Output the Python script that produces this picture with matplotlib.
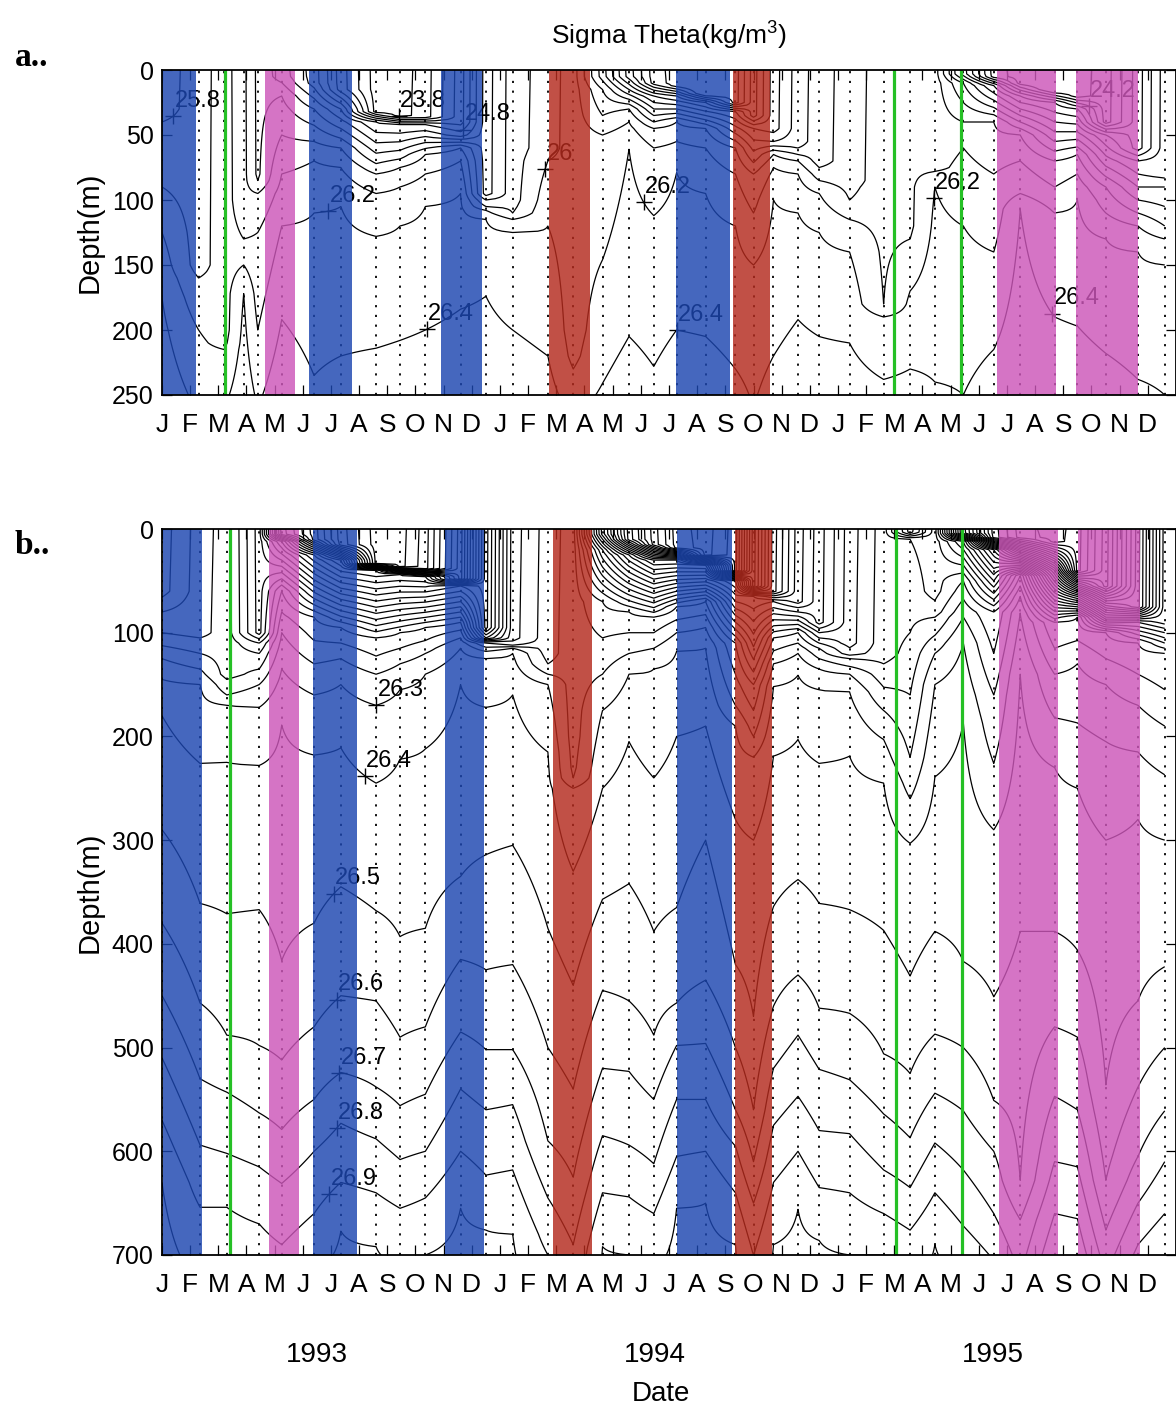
import numpy as np
import matplotlib
matplotlib.use("Agg")
import matplotlib.pyplot as plt
from matplotlib.transforms import blended_transform_factory

SANS = ['Liberation Sans', 'DejaVu Sans']
plt.rcParams['font.family'] = SANS
plt.rcParams['mathtext.fontset'] = 'custom'
plt.rcParams['mathtext.rm'] = 'Liberation Sans'

# ---------------- axis categories ----------------
month_labels = list("JFMAMJJASOND") * 3
year_labels = ['1993', '1994', '1995']
yticks_a = [0, 50, 100, 150, 200, 250]
yticks_b = [0, 100, 200, 300, 400, 500, 600, 700]

# ---------------- event bars (months since Jan 1993) ----------------
bar_start_a = [0.0, 3.65, 5.21, 9.9, 13.73, 18.24, 20.26, 29.66, 32.46]
bar_end_a = [1.21, 4.72, 6.74, 11.35, 15.19, 20.16, 21.57, 31.75, 34.66]
bar_kind_a = ['blue', 'pink', 'blue', 'blue', 'red', 'blue', 'red', 'pink', 'pink']
green_a = [2.23, 26.0, 28.35]

bar_start_b = [0.05, 3.8, 5.36, 10.04, 13.87, 18.3, 20.33, 29.72, 32.52]
bar_end_b = [1.42, 4.86, 6.92, 11.42, 15.28, 20.25, 21.64, 31.8, 34.72]
bar_kind_b = ['blue', 'pink', 'blue', 'blue', 'red', 'blue', 'red', 'pink', 'pink']
green_b = [2.41, 26.07, 28.42]

# ---------------- panel a: casts and profile knots ----------------
cast_a = [0.0, 1.3, 2.2, 2.9, 3.4, 4.25, 5.4, 6.35, 7.6, 8.45, 9.35, 10.6, 11.5,
          12.45, 13.7, 14.6, 15.64, 16.58, 17.46, 18.27, 19.3, 20.36, 21.0, 21.71,
          22.58, 23.33, 24.41, 25.62, 26.56, 27.44, 28.45, 29.53, 30.47, 31.69,
          32.5, 33.51, 34.65, 35.6]
s0_a = [25.7, 25.9, 26.1, 25.85, 25.55, 25.3, 24.9, 24.3, 23.7, 23.7, 23.9, 24.5, 25.3,
        25.7, 25.9, 26.1, 25.3, 24.5, 23.9, 23.7, 23.5, 23.7, 24.3, 24.9,
        25.3, 25.5, 25.7, 25.9, 25.95, 25.9, 24.9, 23.9, 23.7, 23.5,
        23.7, 23.9, 24.5, 25.1]
mld_a = [30, 150, 200, 100, 80, 5, 10, 15, 32, 35, 36, 40, 95,
         100, 60, 200, 5, 5, 10, 12, 18, 25, 35, 45,
         55, 70, 85, 110, 120, 60, 3, 5, 10, 15,
         20, 40, 60, 80]
s1_a = [25.75, 25.95, 26.15, 25.9, 25.6, 25.6, 25.4, 25.0, 24.8, 24.8, 24.8, 24.9, 25.6,
        25.75, 25.95, 26.15, 25.6, 25.0, 24.8, 24.6, 24.6, 24.8, 25.0, 25.2,
        25.4, 25.6, 25.75, 25.95, 25.98, 25.95, 25.4, 24.8, 24.6, 24.6,
        24.6, 24.8, 25.0, 25.4]
ds1_a = [35, 155, 210, 110, 85, 20, 30, 30, 40, 42, 42, 50, 100,
         105, 65, 220, 15, 15, 20, 20, 25, 32, 45, 55,
         60, 75, 90, 115, 125, 75, 10, 12, 20, 25,
         30, 50, 70, 90]
d258_a = [40, np.nan, np.nan, np.nan, 95, 50, 55, 60, 80, 75, 65, 60, 105,
          110, np.nan, np.nan, 35, 30, 45, 40, 45, 60, 80, 65,
          70, 85, 100, np.nan, np.nan, np.nan, 40, 40, 50, 70,
          65, 90, 110, 120]
d260_a = [90, 160, np.nan, 130, 125, 80, 70, 75, 95, 90, 80, 70, 108,
          115, 70, np.nan, 50, 40, 60, 55, 60, 80, 110, 75,
          80, 95, 115, 180, 130, 78, 60, 80, 70, 90,
          80, 110, 120, 130]
d262_a = [125, 200, 215, 150, 200, 120, 110, 105, 128, 120, 105, 95, 115,
          125, 120, 230, 146, 61, 112, 79, 95, 120, 150, 100,
          110, 125, 140, 190, 170, 90, 120, 140, 95, 110,
          100, 130, 140, 150]
d264_a = [175, 265, 260, 172, 260, 192, 235, 220, 214, 208, 200, 184, 174,
          200, 220, 270, 241, 205, 228, 200, 205, 230, 260, 220,
          192, 205, 210, 238, 230, 240, 250, 215, 107, 190,
          197, 218, 238, 250]
d266_a = [300, 320, 320, 300, 320, 280, 300, 300, 300, 300, 300, 300, 300,
          300, 300, 320, 300, 300, 300, 300, 300, 300, 320, 300,
          300, 300, 300, 300, 300, 300, 300, 300, 300, 300,
          300, 300, 300, 320]
levels_a = [23.8, 24.0, 24.2, 24.4, 24.6, 24.8, 25.0, 25.2, 25.4, 25.6, 25.8,
            26.0, 26.2, 26.4, 26.6]
label_text_a = ['25.8', '23.8', '24.8', '26', '26.2', '26.4', '26.2', '26.4',
                '24.8', '26.2', '24.2', '26.4']
label_level_a = [25.8, 23.8, 24.8, 26.0, 26.2, 26.4, 26.2, 26.4, 24.8, 26.2, 24.2, 26.4]
label_time_a = [0.4, 8.4, 10.7, 13.6, 5.9, 9.4, 17.1, 18.27, 21.7, 27.4, 32.9, 31.6]

# ---------------- panel b: casts and profile knots ----------------
cast_b = [0.0, 1.35, 2.3, 3.45, 4.25, 5.4, 6.35, 7.6, 8.45, 9.35, 10.6, 11.5, 12.45,
          13.7, 14.6, 15.64, 16.58, 17.46, 18.27, 19.3, 20.36, 21.0, 21.71, 22.58,
          23.33, 24.41, 25.62, 26.56, 27.44, 28.45, 29.53, 30.47, 31.69, 32.5,
          33.51, 34.65, 35.6]
s0_b = [25.75, 25.95, 26.05, 25.65, 24.55, 24.15, 23.75, 23.45, 23.45, 23.65, 24.25,
        25.15, 25.85, 26.05, 26.15, 24.95, 24.15, 23.75, 23.45, 23.35, 23.55, 24.25,
        24.85, 25.25, 25.45, 25.75, 25.95, 25.45, 25.85, 24.55, 23.75, 23.45, 23.35,
        23.45, 23.85, 24.55, 25.35]
mld_b = [60, 100, 140, 100, 5, 10, 15, 33, 36, 38, 48, 95, 105, 120, 200, 5, 10, 15,
         18, 25, 40, 55, 60, 70, 90, 110, 120, 3, 60, 4, 8, 8, 12, 40, 55, 75, 90]
s1_b = [25.9, 26.0, 26.1, 25.9, 25.2, 25.0, 24.8, 24.9, 25.0, 25.0, 25.3, 25.5, 25.9,
        26.1, 26.18, 25.4, 25.0, 24.8, 24.8, 24.9, 25.1, 25.3, 25.4, 25.5, 25.7, 25.85,
        26.0, 25.9, 25.95, 25.5, 25.0, 24.8, 24.6, 25.0, 25.2, 25.5, 25.6]
ds1_b = [80, 105, 145, 110, 12, 25, 30, 40, 44, 46, 55, 105, 108, 130, 230, 20, 25, 30,
         30, 35, 50, 65, 70, 80, 100, 120, 130, 10, 80, 12, 20, 28, 40, 65, 85, 90, 100]
d260_b = [100, np.nan, np.nan, 120, 60, 85, 95, 105, 100, 95, 90, 110, 112, np.nan,
          np.nan, 70, 80, 85, 75, 70, 110, 150, 105, 100, 115, 125, np.nan, 100, 85,
          50, 80, 45, 90, 85, 100, 110, 120]
d262_b = [125, 135, 160, 150, 100, 130, 125, 140, 130, 120, 105, 118, 115, 140, 240,
          140, 120, 115, 100, 95, 170, 200, 130, 120, 135, 140, 175, 220, 120, 85, 160,
          65, 140, 130, 150, 170, 190]
d263_b = [145, 150, 170, 172, 135, 160, 150, 170, 155, 140, 115, 125, 120, 150, 250,
          175, 140, 135, 118, 115, 190, 220, 152, 141, 155, 157, 203, 260, 150, 110, 226,
          81, 182, 187, 205, 215, 237]
d264_b = [180, 226, 225, 228, 189, 218, 211, 245, 222, 212, 150, 172, 160, 215, 330,
          250, 205, 240, 200, 190, 280, 300, 219, 203, 226, 219, 245, 303, 239, 187, 290,
          140, 230, 250, 300, 280, 300]
d265_b = [290, 361, 371, 367, 416, 380, 345, 368, 393, 385, 335, 314, 305, 385, 440,
          357, 342, 388, 365, 300, 420, 470, 364, 338, 361, 367, 387, 431, 388, 417, 451,
          388, 388, 406, 536, 455, 422]
d266_b = [380, 457, 488, 498, 512, 480, 450, 455, 490, 480, 415, 425, 420, 500, 540,
          445, 455, 488, 457, 435, 500, 560, 460, 430, 462, 467, 506, 525, 487, 500, 551,
          628, 480, 490, 628, 538, 500]
d267_b = [450, 530, 543, 563, 579, 550, 524, 538, 556, 545, 485, 502, 502, 590, 625,
          520, 523, 550, 498, 496, 560, 610, 520, 488, 521, 531, 564, 587, 544, 561, 600,
          666, 547, 560, 676, 605, 561]
d268_b = [510, 594, 602, 615, 631, 600, 573, 588, 608, 600, 540, 560, 555, 645, 690,
          585, 594, 612, 550, 550, 595, 650, 575, 547, 580, 583, 618, 635, 592, 618, 660,
          720, 610, 615, 720, 650, 610]
d269_b = [570, 654, 654, 670, 690, 660, 630, 640, 655, 645, 600, 623, 618, 700, 745,
          640, 644, 660, 605, 600, 640, 700, 630, 600, 635, 640, 660, 676, 640, 672, 705,
          760, 660, 665, 760, 690, 660]
d270_b = [630, 730, 735, 745, 760, 715, 677, 692, 708, 700, 655, 676, 680, 760, 800,
          692, 700, 715, 655, 650, 690, 750, 690, 656, 686, 700, 700, 720, 690, 715, 740,
          800, 710, 715, 800, 730, 700]
levels_b = [round(23.3 + 0.1 * k, 1) for k in range(38)]
label_text_b = ['26.3', '26.4', '26.5', '26.6', '26.7', '26.8', '26.9']
label_level_b = [26.3, 26.4, 26.5, 26.6, 26.7, 26.8, 26.9]
label_time_b = [7.6, 7.2, 6.1, 6.2, 6.3, 6.2, 5.94]

BAR_COLORS = {'blue': '#1c46b0', 'pink': '#cc56b9', 'red': '#b42a1d'}
GREEN = '#25c025'


def build_field(casts, s0, mld, s1, ds1, knot_levels, knot_depths, zmax):
    z = np.arange(0.0, zmax + 1.0, 1.0)
    cols = []
    for i in range(len(casts)):
        kd = [0.0, float(mld[i])]
        ks = [float(s0[i]), float(s0[i]) + 0.01]
        pts = [(ds1[i], s1[i])] + [(dl[i], lev) for lev, dl in zip(knot_levels, knot_depths)]
        for d, s in pts:
            if d is None or np.isnan(d):
                continue
            if d > kd[-1] and s > ks[-1]:
                kd.append(float(d))
                ks.append(float(s))
        kd.append(kd[-1] + 400.0)
        ks.append(ks[-1] + 0.2)
        cols.append(np.interp(z, kd, ks))
    return z, np.array(cols).T


def crossing_depth(casts, z, Z, level, t):
    casts = np.asarray(casts)
    j = int(np.clip(np.searchsorted(casts, t) - 1, 0, len(casts) - 2))
    w = (t - casts[j]) / (casts[j + 1] - casts[j])
    col = Z[:, j] * (1 - w) + Z[:, j + 1] * w
    idx = np.where(np.diff(np.sign(col - level)) != 0)[0]
    if len(idx) == 0:
        return None
    k = idx[0]
    return z[k] + (level - col[k]) / (col[k + 1] - col[k]) * (z[k + 1] - z[k])


def draw_panel(ax, casts, z, Z, levels, ymax, yticks, bstart, bend, bkind, greens,
               ltext, llevel, ltime):
    for t in casts:
        ax.axvline(t, color='k', ls=(0, (1.2, 4.2)), lw=1.3, zorder=1)
    ax.contour(casts, z, Z, levels=levels, colors='k', linewidths=0.9, zorder=2)
    for txt, lev, t in zip(ltext, llevel, ltime):
        d = crossing_depth(casts, z, Z, lev, t)
        if d is None:
            continue
        ax.plot([t], [d], marker='+', ms=11, mew=1.0, color='k', zorder=3, clip_on=False)
        ax.annotate(txt, (t, d), xytext=(1, 3), textcoords='offset points',
                    ha='left', va='bottom', fontsize=17, color='k', zorder=3,
                    annotation_clip=False)
    for a, b, k in zip(bstart, bend, bkind):
        ax.axvspan(a, b, color=BAR_COLORS[k], alpha=0.82, lw=0, zorder=4)
    for g in greens:
        ax.axvline(g, color=GREEN, lw=2.3, zorder=5)
    ax.set_xlim(0, 36)
    ax.set_ylim(ymax, 0)
    ax.set_yticks(yticks)
    ax.set_yticklabels([str(v) for v in yticks])
    ax.set_xticks(np.arange(36))
    ax.set_xticklabels(month_labels)
    ax.tick_params(axis='both', direction='in', length=7, width=0.9,
                   top=True, right=True)
    ax.tick_params(axis='x', pad=13, labelsize=19)
    ax.tick_params(axis='y', pad=6, labelsize=18)
    for sp in ax.spines.values():
        sp.set_linewidth(1.3)
        sp.set_zorder(6)


W, H = 1176, 1409
fig = plt.figure(figsize=(W / 100, H / 100), dpi=100)
left = 162 / W
width = (W - 162) / W
ax_a = fig.add_axes([left, 1 - 395 / H, width, 325 / H])
ax_b = fig.add_axes([left, 1 - 1255 / H, width, 726 / H])

za, Za = build_field(cast_a, s0_a, mld_a, s1_a, ds1_a,
                     [25.8, 26.0, 26.2, 26.4, 26.6],
                     [d258_a, d260_a, d262_a, d264_a, d266_a], 400)
zb, Zb = build_field(cast_b, s0_b, mld_b, s1_b, ds1_b,
                     [26.0, 26.2, 26.3, 26.4, 26.5, 26.6, 26.7, 26.8, 26.9, 27.0],
                     [d260_b, d262_b, d263_b, d264_b, d265_b, d266_b, d267_b,
                      d268_b, d269_b, d270_b], 900)

draw_panel(ax_a, cast_a, za, Za, levels_a, 250, yticks_a, bar_start_a, bar_end_a,
           bar_kind_a, green_a, label_text_a, label_level_a, label_time_a)
draw_panel(ax_b, cast_b, zb, Zb, levels_b, 700, yticks_b, bar_start_b, bar_end_b,
           bar_kind_b, green_b, label_text_b, label_level_b, label_time_b)

# texts
cx = (162 + W) / 2 / W
fig.text(cx, 1 - 35 / H, 'Sigma Theta(kg/m$^\\mathregular{3}$)', ha='center', va='center',
         fontsize=19)
for yc in [(70 + 395) / 2, (529 + 1255) / 2]:
    fig.text(90 / W, 1 - yc / H, 'Depth(m)', rotation=90, ha='center', va='center',
             fontsize=21)
fig.text(15 / W, 1 - 58 / H, 'a..', ha='left', va='center', fontsize=24,
         fontweight='bold', family=['Liberation Serif', 'DejaVu Serif'])
fig.text(15 / W, 1 - 545 / H, 'b..', ha='left', va='center', fontsize=24,
         fontweight='bold', family=['Liberation Serif', 'DejaVu Serif'])

tr = blended_transform_factory(ax_b.transData, fig.transFigure)
for k, yl in enumerate(year_labels):
    ax_b.text(5.5 + 12 * k, 1 - 1355 / H, yl, transform=tr, ha='center', va='center',
              fontsize=20)
ax_b.text(17.7, 1 - 1394 / H, 'Date', transform=tr, ha='center', va='center', fontsize=20)

fig.savefig('out.png', dpi=100)
